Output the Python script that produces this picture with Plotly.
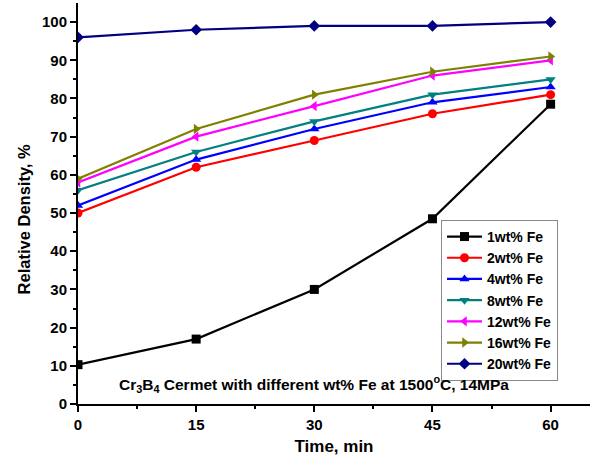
import plotly.graph_objects as go

time = [0, 15, 30, 45, 60]
labels = ["1wt% Fe", "2wt% Fe", "4wt% Fe", "8wt% Fe", "12wt% Fe", "16wt% Fe", "20wt% Fe"]
fe1 = [10.3, 17, 30, 48.5, 78.5]
fe2 = [50, 62, 69, 76, 81]
fe4 = [52, 64, 72, 79, 83]
fe8 = [56, 66, 74, 81, 85]
fe12 = [58, 70, 78, 86, 90]
fe16 = [59, 72, 81, 87, 91]
fe20 = [96, 98, 99, 99, 100]
series = [fe1, fe2, fe4, fe8, fe12, fe16, fe20]

colors = ["#000000", "#ff0000", "#0000ff", "#008080", "#ff00ff", "#808000", "#000080"]
symbols = ["square", "circle", "triangle-up", "triangle-down", "triangle-left", "triangle-right", "diamond"]

fig = go.Figure()
for name, vals, c, s in zip(labels, series, colors, symbols):
    fig.add_trace(go.Scatter(
        x=time, y=vals, name=name, mode="lines+markers",
        line=dict(color=c, width=2.2),
        marker=dict(symbol=s, size=9, color=c),
    ))

fnt = "Arial, Liberation Sans, sans-serif"
fig.update_layout(
    width=590, height=464,
    margin=dict(l=78, r=0, t=3, b=60),
    plot_bgcolor="white", paper_bgcolor="white",
    font=dict(family=fnt, size=15, color="black"),
    showlegend=True,
    legend=dict(
        x=0.709, y=0.459, xanchor="left", yanchor="top",
        bordercolor="#888888", borderwidth=1, bgcolor="white",
        font=dict(family=fnt, size=14, color="black", weight="bold"),
        tracegroupgap=0, itemwidth=35,
    ),
    xaxis=dict(
        range=[0, 65], tickvals=[0, 15, 30, 45, 60],
        showgrid=False, zeroline=False,
        showline=True, linecolor="black", linewidth=2,
        ticks="outside", ticklen=6, tickwidth=2, tickcolor="black",
        minor=dict(tickvals=[7.5, 22.5, 37.5, 52.5], ticks="outside", ticklen=3, tickwidth=2, tickcolor="black"),
        tickfont=dict(family=fnt, size=15, color="black", weight="bold"),
        title=dict(text="Time, min", font=dict(family=fnt, size=17, color="black", weight="bold"), standoff=8),
    ),
    yaxis=dict(
        range=[0, 105], tickvals=[0, 10, 20, 30, 40, 50, 60, 70, 80, 90, 100],
        showgrid=False, zeroline=False,
        showline=True, linecolor="black", linewidth=2,
        ticks="outside", ticklen=6, tickwidth=2, tickcolor="black",
        minor=dict(tickvals=[5, 15, 25, 35, 45, 55, 65, 75, 85, 95], ticks="outside", ticklen=3, tickwidth=2, tickcolor="black"),
        tickfont=dict(family=fnt, size=15, color="black", weight="bold"),
    ),
)

fig.add_annotation(
    x=-0.105, y=0.461, xref="paper", yref="paper",
    text="Relative Density, %", textangle=-90,
    showarrow=False, xanchor="center", yanchor="middle",
    font=dict(family=fnt, size=16.5, color="black", weight="bold"),
)

fig.add_annotation(
    x=0.461, y=0.05, xref="paper", yref="paper",
    text="Cr<sub>3</sub>B<sub>4</sub> Cermet with different wt% Fe at 1500<sup>o</sup>C, 14MPa",
    showarrow=False, xanchor="center", yanchor="middle",
    font=dict(family=fnt, size=15.5, color="black", weight="bold"),
)

fig.write_html("out.html", config={"displayModeBar": False},
               post_script="document.body.style.margin='0';")
